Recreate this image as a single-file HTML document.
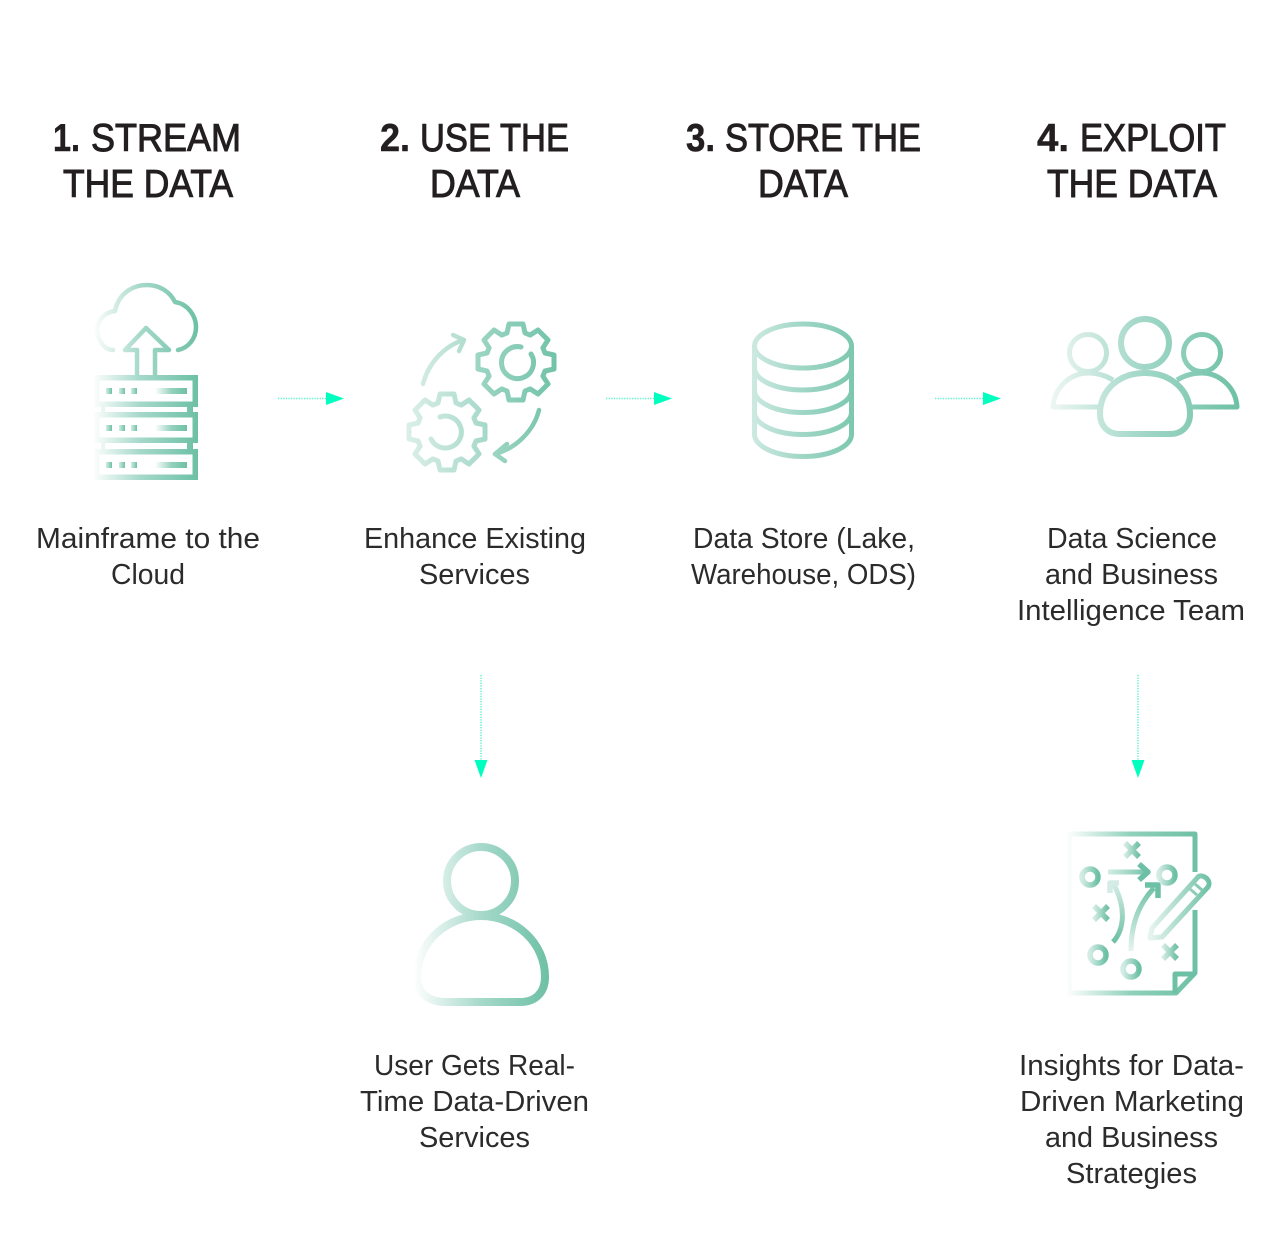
<!DOCTYPE html>
<html>
<head>
<meta charset="utf-8">
<style>
html,body{margin:0;padding:0;background:#fff;}
svg{display:block;}
.h{font-family:"Liberation Sans",sans-serif;font-size:39px;fill:#231f20;stroke:#231f20;stroke-width:1px;}
.n{font-family:"Liberation Sans",sans-serif;font-size:39px;font-weight:bold;fill:#231f20;stroke:#231f20;stroke-width:.5px;}
.b{font-family:"Liberation Sans",sans-serif;font-size:29px;fill:#2b2b2b;}
.ic{fill:none;stroke-linecap:round;stroke-linejoin:round;}
.dot{stroke-width:1.500;stroke-dasharray:1.300 1.300;fill:none;}
</style>
</head>
<body>
<svg width="1280" height="1248" viewBox="0 0 1280 1248" xmlns="http://www.w3.org/2000/svg">
<defs>
<linearGradient id="g1" gradientUnits="userSpaceOnUse" x1="92" y1="0" x2="198" y2="0"><stop offset="0" stop-color="#fff"/><stop offset=".45" stop-color="#a6d9ca"/><stop offset="1" stop-color="#6dc0a5"/></linearGradient>
<linearGradient id="gA" gradientUnits="userSpaceOnUse" x1="-42" y1="0" x2="42" y2="0"><stop offset="0" stop-color="#9fd6c5"/><stop offset="1" stop-color="#70c2a8"/></linearGradient>
<linearGradient id="gB" gradientUnits="userSpaceOnUse" x1="-42" y1="0" x2="42" y2="0"><stop offset="0" stop-color="#dcefe9"/><stop offset="1" stop-color="#a3d8c8"/></linearGradient>
<linearGradient id="g2" gradientUnits="userSpaceOnUse" x1="407" y1="0" x2="556" y2="0"><stop offset="0" stop-color="#dcefe9"/><stop offset="1" stop-color="#70c2a8"/></linearGradient>
<linearGradient id="g3" gradientUnits="userSpaceOnUse" x1="752" y1="0" x2="854" y2="0"><stop offset="0" stop-color="#cde9e1"/><stop offset=".5" stop-color="#9fd6c5"/><stop offset="1" stop-color="#7cc7af"/></linearGradient>
<linearGradient id="g4" gradientUnits="userSpaceOnUse" x1="1050" y1="0" x2="1240" y2="0"><stop offset="0" stop-color="#eef7f4"/><stop offset=".45" stop-color="#a6d9ca"/><stop offset="1" stop-color="#6dc0a5"/></linearGradient>
<linearGradient id="g5" gradientUnits="userSpaceOnUse" x1="413" y1="0" x2="549" y2="0"><stop offset="0" stop-color="#fff"/><stop offset=".5" stop-color="#a6d9ca"/><stop offset="1" stop-color="#6dc0a5"/></linearGradient>
<linearGradient id="g6" gradientUnits="userSpaceOnUse" x1="1066" y1="0" x2="1197" y2="0"><stop offset="0" stop-color="#fff"/><stop offset=".5" stop-color="#8fd0bb"/><stop offset="1" stop-color="#6dc0a5"/></linearGradient>
<linearGradient id="gb"><stop offset="0" stop-color="#d4ece5"/><stop offset="1" stop-color="#6dc0a5"/></linearGradient>
<linearGradient id="gw"><stop offset="0" stop-color="#fff"/><stop offset=".5" stop-color="#95d2bf"/><stop offset="1" stop-color="#6dc0a5"/></linearGradient>
<linearGradient id="gh" gradientUnits="userSpaceOnUse" x1="1108" y1="0" x2="1150" y2="0"><stop offset="0" stop-color="#d4ece5"/><stop offset="1" stop-color="#6dc0a5"/></linearGradient>
<linearGradient id="ga2" gradientUnits="userSpaceOnUse" x1="0" y1="883" x2="0" y2="942"><stop offset="0" stop-color="#d4ece5"/><stop offset="1" stop-color="#6dc0a5"/></linearGradient>
<linearGradient id="ga3" gradientUnits="userSpaceOnUse" x1="0" y1="951" x2="0" y2="885"><stop offset="0" stop-color="#e6f4f0"/><stop offset="1" stop-color="#6dc0a5"/></linearGradient>
<linearGradient id="gp" gradientUnits="userSpaceOnUse" x1="1150" y1="0" x2="1210" y2="0"><stop offset="0" stop-color="#e6f4f0"/><stop offset="1" stop-color="#6dc0a5"/></linearGradient>
</defs>

<!-- Headings -->
<text class="n" x="53" y="151" textLength="27" lengthAdjust="spacingAndGlyphs">1.</text>
<text class="h" x="91" y="151" textLength="150" lengthAdjust="spacingAndGlyphs">STREAM</text>
<text class="h" x="63" y="197" textLength="170" lengthAdjust="spacingAndGlyphs">THE DATA</text>
<text class="n" x="380" y="151" textLength="30" lengthAdjust="spacingAndGlyphs">2.</text>
<text class="h" x="420" y="151" textLength="149" lengthAdjust="spacingAndGlyphs">USE THE</text>
<text class="h" x="430" y="197" textLength="90" lengthAdjust="spacingAndGlyphs">DATA</text>
<text class="n" x="686" y="151" textLength="29" lengthAdjust="spacingAndGlyphs">3.</text>
<text class="h" x="725" y="151" textLength="196" lengthAdjust="spacingAndGlyphs">STORE THE</text>
<text class="h" x="758" y="197" textLength="90" lengthAdjust="spacingAndGlyphs">DATA</text>
<text class="n" x="1037" y="151" textLength="32" lengthAdjust="spacingAndGlyphs">4.</text>
<text class="h" x="1080" y="151" textLength="146" lengthAdjust="spacingAndGlyphs">EXPLOIT</text>
<text class="h" x="1047" y="197" textLength="170" lengthAdjust="spacingAndGlyphs">THE DATA</text>

<!-- Body text -->
<text class="b" x="36" y="548" textLength="224" lengthAdjust="spacingAndGlyphs">Mainframe to the</text>
<text class="b" x="111" y="584" textLength="74" lengthAdjust="spacingAndGlyphs">Cloud</text>
<text class="b" x="364" y="548" textLength="222" lengthAdjust="spacingAndGlyphs">Enhance Existing</text>
<text class="b" x="419" y="584" textLength="111" lengthAdjust="spacingAndGlyphs">Services</text>
<text class="b" x="693" y="548" textLength="222" lengthAdjust="spacingAndGlyphs">Data Store (Lake,</text>
<text class="b" x="691" y="584" textLength="225" lengthAdjust="spacingAndGlyphs">Warehouse, ODS)</text>
<text class="b" x="1047" y="548" textLength="170" lengthAdjust="spacingAndGlyphs">Data Science</text>
<text class="b" x="1045" y="584" textLength="173" lengthAdjust="spacingAndGlyphs">and Business</text>
<text class="b" x="1017" y="620" textLength="228" lengthAdjust="spacingAndGlyphs">Intelligence Team</text>
<text class="b" x="374" y="1075" textLength="201" lengthAdjust="spacingAndGlyphs">User Gets Real-</text>
<text class="b" x="360" y="1111" textLength="229" lengthAdjust="spacingAndGlyphs">Time Data-Driven</text>
<text class="b" x="419" y="1147" textLength="111" lengthAdjust="spacingAndGlyphs">Services</text>
<text class="b" x="1019" y="1075" textLength="225" lengthAdjust="spacingAndGlyphs">Insights for Data-</text>
<text class="b" x="1020" y="1111" textLength="224" lengthAdjust="spacingAndGlyphs">Driven Marketing</text>
<text class="b" x="1045" y="1147" textLength="173" lengthAdjust="spacingAndGlyphs">and Business</text>
<text class="b" x="1066" y="1183" textLength="131" lengthAdjust="spacingAndGlyphs">Strategies</text>

<!-- Connectors -->
<g stroke="#5ff2cf" class="dot">
<path d="M278 398.500H326"/>
<path d="M606 398.500H654"/>
<path d="M935 398.500H983"/>
<path d="M481 675V760"/>
<path d="M1138 675V760"/>
</g>
<g fill="#00ffbf">
<path d="M326 392L344 398.500L326 405Z"/>
<path d="M654 392L672 398.500L654 405Z"/>
<path d="M983 392L1001 398.500L983 405Z"/>
<path d="M474.500 760H487.500L481 778Z"/>
<path d="M1131.500 760H1144.500L1138 778Z"/>
</g>

<!-- Icon 1: cloud & servers -->
<g class="ic" stroke="url(#g1)" stroke-width="4.500">
<path d="M113 350C103 350 97 338 97 330C97 320 105 312 115 311C118 295 131 285 147 285C160 285 170 292 175 302C188 304 196 316 196 327C196 339 188 348 178 350"/>
<path d="M137 375V350H125L146 328L169 350H155V375" stroke-linecap="butt"/>
</g>
<g fill="none" stroke="url(#g1)" stroke-width="5.500">
<rect x="96.750" y="377.750" width="98.500" height="26.500"/>
<rect x="96.750" y="414.750" width="98.500" height="25.500"/>
<rect x="96.750" y="451.750" width="98.500" height="25.500"/>
</g>
<g fill="url(#g1)">
<rect x="101" y="406" width="4" height="7"/><rect x="187" y="406" width="6" height="7"/>
<rect x="101" y="442" width="4" height="8"/><rect x="187" y="442" width="6" height="8"/>
</g>
<g fill="url(#gb)">
<rect x="106" y="388" width="6" height="6"/><rect x="119" y="388" width="6" height="6"/><rect x="131" y="388" width="6" height="6"/>
<rect x="106" y="425" width="6" height="6"/><rect x="119" y="425" width="6" height="6"/><rect x="131" y="425" width="6" height="6"/>
<rect x="106" y="462" width="6" height="6"/><rect x="119" y="462" width="6" height="6"/><rect x="131" y="462" width="6" height="6"/>
</g>
<g fill="url(#gw)">
<rect x="155" y="388" width="32" height="6"/>
<rect x="155" y="425" width="32" height="6"/>
<rect x="155" y="462" width="32" height="6"/>
</g>

<!-- Icon 2: gears -->
<g class="ic" stroke-width="5" transform="translate(516 362)" stroke="url(#gA)">
<path d="M-9 -29L-7 -38H7L9 -29L14.100 -26.900L22 -32L32 -22L26.900 -14.100L29 -9L38 -7V7L29 9L26.900 14.100L32 22L22 32L14.100 26.900L9 29L7 38H-7L-9 29L-14.100 26.900L-22 32L-32 22L-26.900 14.100L-29 9L-38 7V-7L-29 -9L-26.900 -14.100L-32 -22L-22 -32L-14.100 -26.900Z"/>
<path d="M15 -8A16 16 0 1 1 5 -15"/>
</g>
<g class="ic" stroke-width="5" transform="translate(447 432)" stroke="url(#gB)">
<path d="M-9 -29L-7 -38H7L9 -29L14.100 -26.900L22 -32L32 -22L26.900 -14.100L29 -9L38 -7V7L29 9L26.900 14.100L32 22L22 32L14.100 26.900L9 29L7 38H-7L-9 29L-14.100 26.900L-22 32L-32 22L-26.900 14.100L-29 9L-38 7V-7L-29 -9L-26.900 -14.100L-32 -22L-22 -32L-14.100 -26.900Z"/>
<path d="M-16 7A16 16 0 1 0 -7 -15"/>
</g>
<g class="ic" stroke="url(#g2)" stroke-width="4.500">
<path d="M423 384C428 364 443 347 463 340"/>
<path d="M453 335L464 340L459 351"/>
<path d="M539 410C534 430 517 448 495 454"/>
<path d="M507 444L495 454L505 461"/>
</g>

<!-- Icon 3: database -->
<g fill="none" stroke="url(#g3)" stroke-width="5">
<ellipse cx="803" cy="346" rx="48.500" ry="22"/>
<path d="M754.500 346V434.500"/>
<path d="M851.500 346V434.500"/>
<path d="M754.500 368A48.500 22 0 0 0 851.500 368"/>
<path d="M754.500 390.500A48.500 22 0 0 0 851.500 390.500"/>
<path d="M754.500 412.500A48.500 22 0 0 0 851.500 412.500"/>
<path d="M754.500 434.500A48.500 22 0 0 0 851.500 434.500"/>
</g>

<!-- Icon 4: people -->
<g fill="none" stroke="url(#g4)" stroke-linejoin="round">
<circle cx="1145" cy="343" r="24" stroke-width="6"/>
<path d="M1120 434H1170C1182 434 1190 426 1190 414C1190 389 1170 373 1145 373C1120 373 1100 389 1100 414C1100 426 1108 434 1120 434Z" stroke-width="6"/>
<circle cx="1088" cy="353" r="18.500" stroke-width="5"/>
<circle cx="1202" cy="353" r="18.500" stroke-width="5"/>
<path d="M1113 380C1105 375 1096 373 1088 373C1070 373 1054 388 1053 407H1098" stroke-width="5"/>
<path d="M1177 380C1185 375 1194 373 1202 373C1220 373 1236 388 1237 407H1192" stroke-width="5"/>
</g>

<!-- Icon 5: person -->
<g fill="none" stroke="url(#g5)" stroke-width="8">
<circle cx="481" cy="881" r="34"/>
<path d="M445 1002H520C536 1002 545 992 545 977C545 942 515 916 481 916C447 916 417 942 417 977C417 992 428 1002 445 1002Z"/>
</g>

<!-- Icon 6: strategy -->
<g fill="none" stroke-width="5" stroke-linejoin="round">
<path d="M1195 872V834H1069V993H1176L1195 973V910" stroke="url(#g6)"/>
<path d="M1195 974H1175V993" stroke="#6dc0a5"/>
<g stroke="url(#gb)" stroke-width="5.500">
<circle cx="1090" cy="877" r="8"/>
<circle cx="1167" cy="875" r="8"/>
<circle cx="1098" cy="955" r="8"/>
<circle cx="1131" cy="969" r="8"/>
<path d="M1125 843L1139 857M1139 843L1125 857"/>
<path d="M1094 906L1108 920M1108 906L1094 920"/>
<path d="M1163 945L1177 959M1177 945L1163 959"/>
</g>
<path d="M1108 872H1148" stroke="url(#gh)" stroke-width="5"/>
<path d="M1139 864L1148 872L1139 880" stroke="#6dc0a5" stroke-width="5.500"/>
<path d="M1113 942C1124 930 1127 908 1113 883" stroke="url(#ga2)"/>
<path d="M1110 893V883H1119" stroke="#d4ece5" stroke-width="5.500"/>
<path d="M1131 951C1131 925 1138 905 1154 888" stroke="url(#ga3)"/>
<path d="M1145 885H1158V898" stroke="#6dc0a5" stroke-width="5.500"/>
<path d="M1152 928L1198 877C1203 873 1212 881 1208 887L1162 937L1150 938Z" stroke="url(#gp)"/>
<path d="M1190 889L1197 895M1195 884L1202 890" stroke="url(#gp)" stroke-width="3"/>
</g>
</svg>
</body>
</html>
